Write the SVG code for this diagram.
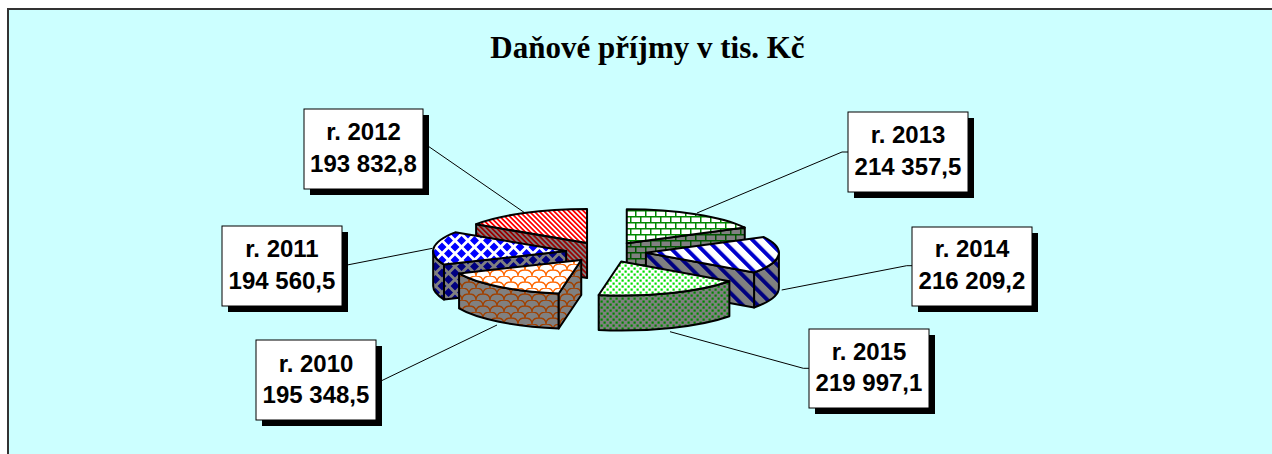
<svg xmlns="http://www.w3.org/2000/svg" width="1272" height="454" viewBox="0 0 1272 454">
<style>
.face{stroke:#000;stroke-width:2;stroke-linejoin:round}
.box{fill:#fff;stroke:#000;stroke-width:1}
.shadow{fill:#000}
.lbl{font-family:"Liberation Sans",Arial,sans-serif;font-weight:bold;font-size:24px;fill:#000;text-anchor:middle}
.title{font-family:"Liberation Serif","Times New Roman",serif;font-weight:bold;font-size:31px;fill:#000;text-anchor:middle}
.conn line,.conn polyline{stroke:#000;stroke-width:1;fill:none}
</style>
<defs>
<pattern id="pRedTop" patternUnits="userSpaceOnUse" width="3.5" height="3.5" patternTransform="rotate(-45)">
<rect width="3.5" height="3.5" fill="#fff"/><rect width="1.75" height="3.5" fill="#f00"/></pattern>
<pattern id="pRedSide" patternUnits="userSpaceOnUse" width="3.5" height="3.5" patternTransform="rotate(-45)">
<rect width="3.5" height="3.5" fill="#808080"/><rect width="1.75" height="3.5" fill="#900"/></pattern>
<pattern id="pStrTop" patternUnits="userSpaceOnUse" width="10.6" height="10.6" patternTransform="rotate(-45)">
<rect width="10.6" height="10.6" fill="#fff"/><rect width="4" height="10.6" fill="#00c"/></pattern>
<pattern id="pStrSide" patternUnits="userSpaceOnUse" width="10.6" height="10.6" patternTransform="rotate(-45)">
<rect width="10.6" height="10.6" fill="#808080"/><rect width="4" height="10.6" fill="#000080"/></pattern>
<pattern id="pDiaTop" patternUnits="userSpaceOnUse" width="13" height="13">
<rect width="13" height="13" fill="#fff"/>
<path d="M6.5 2L11 6.5L6.5 11L2 6.5Z M0 -4.5L4.5 0L0 4.5L-4.5 0Z M13 -4.5L17.5 0L13 4.5L8.5 0Z M0 8.5L4.5 13L0 17.5L-4.5 13Z M13 8.5L17.5 13L13 17.5L8.5 13Z" fill="#00f"/></pattern>
<pattern id="pDiaSide" patternUnits="userSpaceOnUse" width="13" height="13">
<rect width="13" height="13" fill="#808080"/>
<path d="M6.5 2L11 6.5L6.5 11L2 6.5Z M0 -4.5L4.5 0L0 4.5L-4.5 0Z M13 -4.5L17.5 0L13 4.5L8.5 0Z M0 8.5L4.5 13L0 17.5L-4.5 13Z M13 8.5L17.5 13L13 17.5L8.5 13Z" fill="#000080"/></pattern>
<pattern id="pShTop" patternUnits="userSpaceOnUse" width="14" height="12">
<rect width="14" height="12" fill="#fff"/>
<path d="M0 12Q0 6 7 6Q14 6 14 12M-7 6Q-7 0 0 0Q7 0 7 6M7 6Q7 0 14 0Q21 0 21 6" fill="none" stroke="#f60" stroke-width="1.3"/></pattern>
<pattern id="pShSide" patternUnits="userSpaceOnUse" width="14" height="12">
<rect width="14" height="12" fill="#808080"/>
<path d="M0 12Q0 6 7 6Q14 6 14 12M-7 6Q-7 0 0 0Q7 0 7 6M7 6Q7 0 14 0Q21 0 21 6" fill="none" stroke="#a04000" stroke-width="1.3"/></pattern>
<pattern id="pBrTop" patternUnits="userSpaceOnUse" width="20" height="12">
<rect width="20" height="12" fill="#fff"/>
<path d="M0 0.75H20M0 6.75H20M0.75 0V6.75M10.75 0V6.75M5.75 6.75V12M15.75 6.75V12" stroke="#080" stroke-width="1.5"/></pattern>
<pattern id="pBrSide" patternUnits="userSpaceOnUse" width="20" height="12">
<rect width="20" height="12" fill="#808080"/>
<path d="M0 0.75H20M0 6.75H20M0.75 0V6.75M10.75 0V6.75M5.75 6.75V12M15.75 6.75V12" stroke="#005500" stroke-width="1.5"/></pattern>
<pattern id="pDotTop" patternUnits="userSpaceOnUse" width="6" height="6">
<rect width="6" height="6" fill="#fff"/>
<rect x="0.5" y="0.5" width="2.2" height="2.2" fill="#0d0"/><rect x="3.5" y="3.5" width="2.2" height="2.2" fill="#0d0"/></pattern>
<pattern id="pDotSide" patternUnits="userSpaceOnUse" width="6" height="6">
<rect width="6" height="6" fill="#808080"/>
<rect x="0.5" y="0.5" width="2.2" height="2.2" fill="#080"/><rect x="3.5" y="3.5" width="2.2" height="2.2" fill="#080"/></pattern>
</defs>
<rect x="0" y="0" width="1272" height="454" fill="#fff"/>
<rect x="8" y="9" width="1272" height="454" fill="#ccffff" stroke="#333" stroke-width="2"/>
<text class="title" x="647.5" y="58">Daňové příjmy v tis. Kč</text>
<g id="connectors" class="conn">
<line x1="423" y1="142.6" x2="524" y2="212.3"/>
<line x1="342" y1="266" x2="432.5" y2="248.3"/>
<line x1="376" y1="383.4" x2="497" y2="325"/>
<polyline points="697,213 842,152 848,152"/>
<polyline points="781.7,290 906.7,265.7 912,265.7"/>
<polyline points="670,331.7 803.3,368.3 809,368.3"/>
</g>
<g id="slice-2012">
<path class="face" fill="url(#pRedSide)" d="M587.05,242.99L476.11,224.24L476.11,259.24L587.05,277.99Z"/>
<path class="face" fill="url(#pRedTop)" d="M587.05,242.99L476.11,224.24A133,34 0 0 1 587.05,208.99Z"/>
</g>
<g id="slice-2013">
<path class="face" fill="url(#pBrSide)" d="M626.76,243.26L744.76,227.57L744.76,262.57L626.76,278.26Z"/>
<path class="face" fill="url(#pBrTop)" d="M626.76,243.26L626.76,209.26A133,34 0 0 1 744.76,227.57Z"/>
</g>
<g id="slice-2011">
<path class="face" fill="url(#pDiaSide)" d="M443.99,264.53A133,34 0 0 1 433.16,251.09L433.16,286.09A133,34 0 0 0 443.99,299.53Z"/>
<path class="face" fill="url(#pDiaSide)" d="M566.16,251.09L443.99,264.53L443.99,299.53L566.16,286.09Z"/>
<path class="face" fill="url(#pDiaTop)" d="M566.16,251.09L443.99,264.53A133,34 0 0 1 455.22,232.34Z"/>
</g>
<g id="slice-2014">
<path class="face" fill="url(#pStrSide)" d="M778.9,252.72A133,34 0 0 1 754.07,272.5L754.07,307.5A133,34 0 0 0 778.9,287.72Z"/>
<path class="face" fill="url(#pStrSide)" d="M645.9,252.72L754.07,272.5L754.07,307.5L645.9,287.72Z"/>
<path class="face" fill="url(#pStrTop)" d="M645.9,252.72L763.9,237.03A133,34 0 0 1 754.07,272.5Z"/>
</g>
<g id="slice-2010">
<path class="face" fill="url(#pShSide)" d="M558.74,293.54A133,34 0 0 1 459.08,273.47L459.08,308.47A133,34 0 0 0 558.74,328.54Z"/>
<path class="face" fill="url(#pShSide)" d="M581.25,260.03L558.74,293.54L558.74,328.54L581.25,295.03Z"/>
<path class="face" fill="url(#pShTop)" d="M581.25,260.03L558.74,293.54A133,34 0 0 1 459.08,273.47Z"/>
</g>
<g id="slice-2015">
<path class="face" fill="url(#pDotSide)" d="M729.37,281.24A133,34 0 0 1 598.69,294.97L598.69,329.97A133,34 0 0 0 729.37,316.24Z"/>
<path class="face" fill="url(#pDotTop)" d="M621.2,261.46L729.37,281.24A133,34 0 0 1 598.69,294.97Z"/>
</g>
<g id="label-2012">
<rect class="shadow" x="310" y="115" width="119" height="80"/>
<rect class="box" x="304" y="109" width="119" height="80"/>
<text class="lbl" x="363.5" y="140">r. 2012</text>
<text class="lbl" x="363.5" y="172">193 832,8</text>
</g>
<g id="label-2011">
<rect class="shadow" x="228" y="232" width="120" height="80"/>
<rect class="box" x="222" y="226" width="120" height="80"/>
<text class="lbl" x="282" y="257">r. 2011</text>
<text class="lbl" x="282" y="289">194 560,5</text>
</g>
<g id="label-2010">
<rect class="shadow" x="262" y="346" width="120" height="80"/>
<rect class="box" x="256" y="340" width="120" height="80"/>
<text class="lbl" x="316" y="371.5">r. 2010</text>
<text class="lbl" x="316" y="403">195 348,5</text>
</g>
<g id="label-2013">
<rect class="shadow" x="854" y="118" width="120" height="80"/>
<rect class="box" x="848" y="112" width="120" height="80"/>
<text class="lbl" x="908" y="143">r. 2013</text>
<text class="lbl" x="908" y="175">214 357,5</text>
</g>
<g id="label-2014">
<rect class="shadow" x="918" y="233" width="120" height="79"/>
<rect class="box" x="912" y="227" width="120" height="79"/>
<text class="lbl" x="972" y="257">r. 2014</text>
<text class="lbl" x="972" y="289">216 209,2</text>
</g>
<g id="label-2015">
<rect class="shadow" x="815" y="335" width="120" height="79"/>
<rect class="box" x="809" y="329" width="120" height="79"/>
<text class="lbl" x="869" y="359.5">r. 2015</text>
<text class="lbl" x="869" y="391">219 997,1</text>
</g>
</svg>
